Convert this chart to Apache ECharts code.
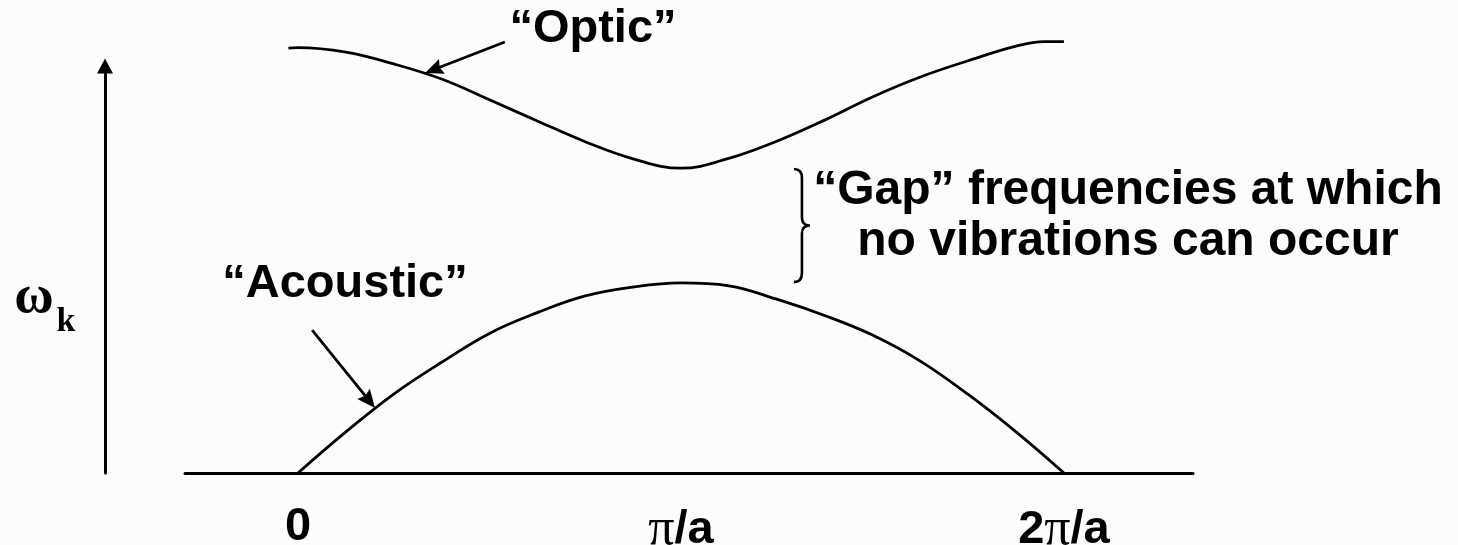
<!DOCTYPE html>
<html>
<head>
<meta charset="utf-8">
<script src="https://cdn.jsdelivr.net/npm/echarts@6/dist/echarts.min.js"></script>
<style>
  html, body { margin: 0; padding: 0; background: #fcfcff; }
  #chart { width: 1458px; height: 545px; }
</style>
</head>
<body>
<div id="chart"></div>
<script>
// wave vector k, in units of pi/a
const acousticK = [0, 0.125, 0.25, 0.375, 0.5, 0.625, 0.75, 0.875, 1, 1.125, 1.25, 1.375, 1.5, 1.625, 1.75, 1.875, 2]
const acousticOmega = [0, 10.1, 19.4, 27.2, 34.3, 39.4, 43.5, 45.7, 46.7, 46.0, 42.7, 38.7, 33.9, 27.5, 19.3, 10.1, 0]

const opticK = [-0.025, 0, 0.125, 0.25, 0.375, 0.5, 0.625, 0.75, 0.875, 1, 1.125, 1.25, 1.375, 1.5, 1.625, 1.75, 1.875, 1.95, 2]
const opticOmega = [104.4, 104.5, 103.4, 100.5, 96.8, 91.7, 86.5, 81.4, 77.2, 74.9, 77.3, 81.5, 86.7, 92.4, 97.3, 101.3, 104.9, 106.0, 106.0]

const tickValues = [0, 1, 2]
const tickLabels = ['{b|0}', '{p|π}{b|/a}', '{b|2}{p|π}{b|/a}']

// pointer arrows: [fromK, fromOmega, toK, toOmega]
const pointerArrows = [
  [0.540, 105.9, 0.332, 98.3],
  [0.037, 35.1, 0.201, 16.0]
]
// gap brace: [k, top omega, bottom omega]
const gapBrace = [[1.295, 74.7, 46.9]]

const black = '#000'
const chart = echarts.init(document.getElementById('chart'))

const renderArrow = (params, api) => {
  const p1 = api.coord([api.value(0), api.value(1)])
  const p2 = api.coord([api.value(2), api.value(3)])
  const dx = p2[0] - p1[0]
  const dy = p2[1] - p1[1]
  const len = Math.sqrt(dx * dx + dy * dy)
  const ux = dx / len
  const uy = dy / len
  const headLen = 18
  const halfW = 8
  const bx = p2[0] - ux * headLen
  const by = p2[1] - uy * headLen
  return {
    type: 'group',
    children: [
      {
        type: 'line',
        shape: { x1: p1[0], y1: p1[1], x2: bx + ux * 3, y2: by + uy * 3 },
        style: { stroke: black, lineWidth: 2.8 }
      },
      {
        type: 'polygon',
        shape: {
          points: [
            [p2[0], p2[1]],
            [bx - uy * halfW, by + ux * halfW],
            [bx + ux * 2.5, by + uy * 2.5],
            [bx + uy * halfW, by - ux * halfW]
          ]
        },
        style: { fill: black }
      }
    ]
  }
}

const renderBrace = (params, api) => {
  const top = api.coord([api.value(0), api.value(1)])
  const bottom = api.coord([api.value(0), api.value(2)])
  const x = top[0]
  const yt = top[1]
  const yb = bottom[1]
  const ym = (yt + yb) / 2
  const mid = x + 8
  const tip = x + 16
  const path = 'M' + x + ' ' + yt +
    ' Q' + mid + ' ' + yt + ' ' + mid + ' ' + (yt + 9) +
    ' L' + mid + ' ' + (ym - 8) +
    ' Q' + mid + ' ' + ym + ' ' + tip + ' ' + ym +
    ' Q' + mid + ' ' + ym + ' ' + mid + ' ' + (ym + 8) +
    ' L' + mid + ' ' + (yb - 9) +
    ' Q' + mid + ' ' + yb + ' ' + x + ' ' + yb
  return {
    type: 'path',
    shape: { pathData: path },
    style: { stroke: black, lineWidth: 2.6, fill: null }
  }
}

const boldFont = 'bold 47px "Liberation Sans", Arial, sans-serif'

chart.setOption({
  backgroundColor: '#fcfcff',
  animation: false,
  grid: { left: 185, right: 265, top: 66, bottom: 72, outerBoundsMode: 'none' },
  xAxis: {
    type: 'value',
    min: -0.295,
    max: 2.337,
    axisLine: { lineStyle: { color: black, width: 3 } },
    axisTick: { show: false },
    splitLine: { show: false },
    axisLabel: {
      customValues: tickValues,
      margin: 31,
      formatter: (v) => tickLabels[tickValues.indexOf(v)],
      rich: {
        b: { fontFamily: 'Liberation Sans', fontWeight: 'bold', fontSize: 47, color: black },
        p: { fontFamily: 'Liberation Serif', fontSize: 52, color: black }
      }
    }
  },
  yAxis: {
    type: 'value',
    min: 0,
    max: 100,
    offset: 80,
    axisLine: {
      show: true,
      onZero: false,
      symbol: ['none', 'triangle'],
      symbolSize: [16, 15],
      lineStyle: { color: black, width: 3 }
    },
    axisTick: { show: false },
    axisLabel: { show: false },
    splitLine: { show: false }
  },
  graphic: [
    {
      type: 'text', x: 593, y: 29,
      style: { text: '“Optic”', font: boldFont, fill: black, align: 'center', verticalAlign: 'middle' }
    },
    {
      type: 'text', x: 345, y: 284,
      style: { text: '“Acoustic”', font: boldFont, fill: black, align: 'center', verticalAlign: 'middle' }
    },
    {
      type: 'text', x: 1128, y: 216,
      style: {
        text: '“Gap” frequencies at which\nno vibrations can occur',
        font: 'bold 48px "Liberation Sans", Arial, sans-serif',
        lineHeight: 51, fill: black, align: 'center', verticalAlign: 'middle'
      }
    },
    {
      type: 'text', x: 34, y: 298,
      style: { text: 'ω', font: 'bold 54px "Liberation Serif", serif', fill: black, align: 'center', verticalAlign: 'middle' }
    },
    {
      type: 'text', x: 66, y: 322,
      style: { text: 'k', font: 'bold 34px "Liberation Serif", serif', fill: black, align: 'center', verticalAlign: 'middle' }
    }
  ],
  series: [
    {
      name: 'Acoustic',
      type: 'line',
      data: acousticK.map((k, i) => [k, acousticOmega[i]]),
      smooth: 0.4,
      symbol: 'none',
      clip: false,
      silent: true,
      lineStyle: { color: black, width: 2.8 }
    },
    {
      name: 'Optic',
      type: 'line',
      data: opticK.map((k, i) => [k, opticOmega[i]]),
      smooth: 0.4,
      symbol: 'none',
      clip: false,
      silent: true,
      lineStyle: { color: black, width: 2.8 }
    },
    {
      name: 'pointers',
      type: 'custom',
      silent: true,
      renderItem: renderArrow,
      encode: { x: [0, 2], y: [1, 3] },
      data: pointerArrows
    },
    {
      name: 'gap',
      type: 'custom',
      silent: true,
      renderItem: renderBrace,
      encode: { x: 0, y: [1, 2] },
      data: gapBrace
    }
  ]
})

window.addEventListener('resize', () => chart.resize())
</script>
</body>
</html>
